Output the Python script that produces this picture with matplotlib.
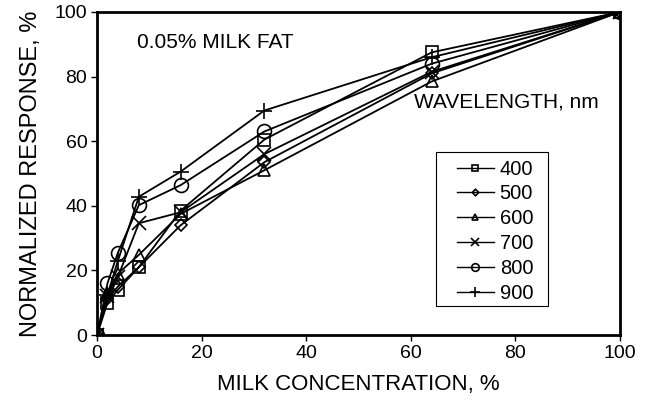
import matplotlib
matplotlib.use("Agg")
import matplotlib.pyplot as plt
from matplotlib.patches import Rectangle

plt.rcParams["font.family"] = ["Liberation Sans", "DejaVu Sans"]

# milk concentration, %
conc = [0, 2, 4, 8, 16, 32, 64, 100]

# normalized response, % per wavelength (nm)
wavelengths = ["400", "500", "600", "700", "800", "900"]
resp_400 = [0, 10, 14, 21, 38.5, 60.5, 87.5, 100]
resp_500 = [0, 11, 15, 21, 34, 53.5, 81, 100]
resp_600 = [0, 13, 19, 24.8, 37.5, 51, 78.5, 100]
resp_700 = [0, 12, 18, 34.6, 38, 56, 81.5, 100]
resp_800 = [0, 16, 25.5, 40.2, 46.4, 63, 84, 100]
resp_900 = [0, 12.5, 23, 42.8, 50.6, 69.5, 86, 100]
series = [resp_400, resp_500, resp_600, resp_700, resp_800, resp_900]
markers = ["s", "D", "^", "x", "o", "+"]
msizes = [8, 6, 9, 10, 10, 12]

fig = plt.figure(figsize=(6.48, 4.16), dpi=100)
ax = fig.add_axes([0.1497, 0.1947, 0.8071, 0.7765])

for lab, ys, m, ms in zip(wavelengths, series, markers, msizes):
    ax.plot(conc, ys, color="black", linewidth=1.3, marker=m, markersize=ms,
            markerfacecolor="none", markeredgecolor="black",
            markeredgewidth=1.2, label=lab)

ax.set_xlim(0, 100)
ax.set_ylim(0, 100)
ax.set_xticks([0, 20, 40, 60, 80, 100])
ax.set_yticks([0, 20, 40, 60, 80, 100])
ax.tick_params(direction="out", length=4, width=1, labelsize=14, pad=3)
for sp in ax.spines.values():
    sp.set_linewidth(2)

ax.set_xlabel("MILK CONCENTRATION, %", fontsize=16, labelpad=9)
ax.set_ylabel("NORMALIZED RESPONSE, %", fontsize=17, labelpad=9)

ax.text(0.077, 0.907, "0.05% MILK FAT", transform=ax.transAxes, fontsize=15,
        va="center", ha="left")

# legend: title outside the box, as in the original
ax.text(0.782, 0.721, "WAVELENGTH, nm", transform=ax.transAxes, fontsize=15,
        va="center", ha="center")
ax.add_patch(Rectangle((0.648, 0.090), 0.214, 0.477, transform=ax.transAxes,
                       fill=False, edgecolor="black", linewidth=0.8))
leg = ax.legend(loc="upper left", bbox_to_anchor=(0.689, 0.543), frameon=False,
                fontsize=14.5, markerscale=0.55, handlelength=1.8,
                labelspacing=0.29, handletextpad=0.3, borderpad=0,
                borderaxespad=0)
for h in leg.get_lines():
    h.set_linewidth(1.0)

fig.savefig("out.png", dpi=100)
